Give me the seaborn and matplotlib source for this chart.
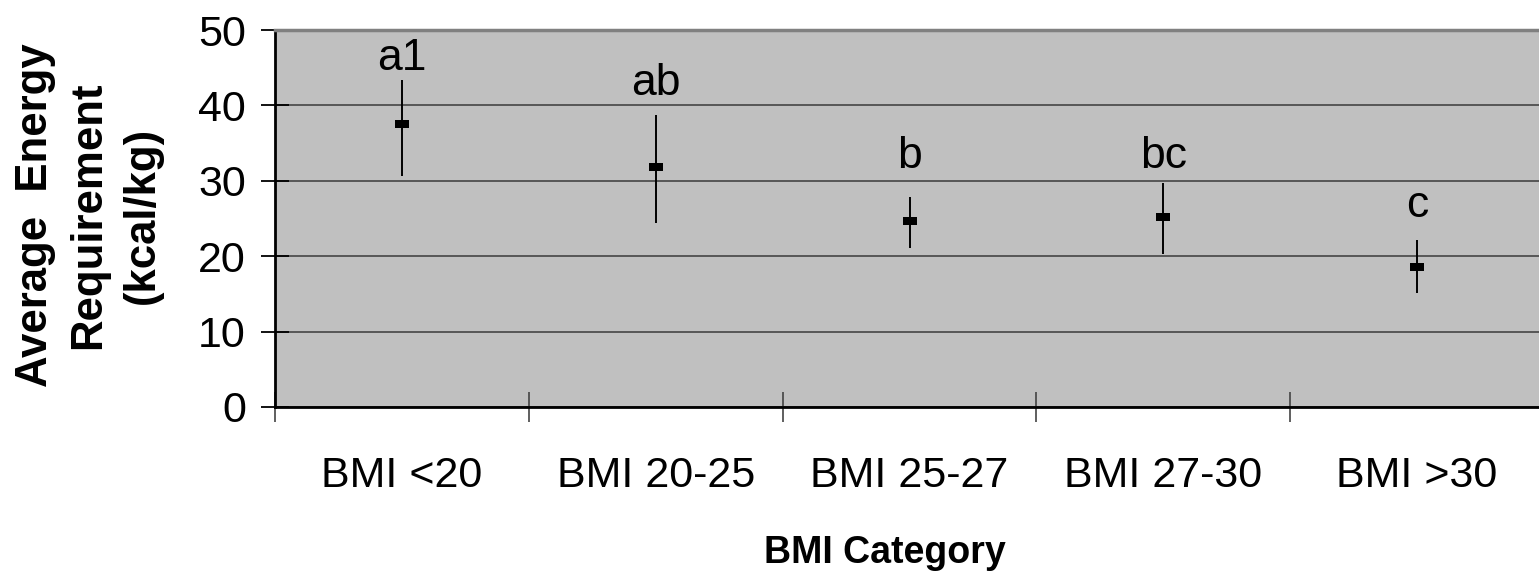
import matplotlib
matplotlib.use("Agg")
import matplotlib.pyplot as plt
from matplotlib.ticker import FixedLocator
import seaborn as sns
import pandas as pd

# ---- data ----
categories = ["BMI <20", "BMI 20-25", "BMI 25-27", "BMI 27-30", "BMI >30"]
means = [37.5, 31.8, 24.7, 25.2, 18.6]
upper = [43.4, 38.7, 27.8, 29.7, 22.1]
lower = [30.7, 24.4, 21.1, 20.3, 15.1]
letters = ["a1", "ab", "b", "bc", "c"]
letter_y = [44.7, 41.4, 31.7, 31.7, 25.2]
y_ticks = [0, 10, 20, 30, 40, 50]

df = pd.DataFrame({"cat": categories, "mean": means})

sns.set_theme(style="white")
plt.rcParams["font.family"] = ["Liberation Sans", "DejaVu Sans"]
plt.rcParams["text.color"] = "black"
plt.rcParams["xtick.labelcolor"] = "black"
plt.rcParams["ytick.labelcolor"] = "black"

W, H = 1539, 581
fig = plt.figure(figsize=(W / 100, H / 100), dpi=100)
ax = fig.add_axes([275 / W, (H - 407) / H, (1544 - 275) / W, (407 - 30) / H])
ax.set_facecolor("#C0C0C0")

# error bars
ax.vlines(categories, lower, upper, color="black", linewidth=1.4, zorder=3)

# mean markers (small horizontal rectangle)
rect = [(-1, -0.6), (1, -0.6), (1, 0.6), (-1, 0.6), (-1, -0.6)]
sns.scatterplot(data=df, x="cat", y="mean", marker=rect, s=105, color="black",
                edgecolor="black", linewidth=0, ax=ax, zorder=4, legend=False)

# significance letters
for c, t, yy in zip(categories, letters, letter_y):
    ax.text(c, yy, t, ha="center", va="baseline", fontsize=32, color="black", zorder=5)

ax.set_xlim(-0.5, len(categories) - 0.5)
ax.set_ylim(0, 50)
ax.yaxis.set_major_locator(FixedLocator(y_ticks))
ax.set_yticklabels([str(v) for v in y_ticks])
ax.grid(axis="y", color="#3a3a3a", linewidth=1.1, zorder=1)
ax.set_axisbelow(True)

# x ticks: labels at centres, tick marks at category boundaries
ax.set_xticks(range(len(categories)))
ax.set_xticklabels(categories)
ax.set_xticks([i - 0.5 for i in range(len(categories) + 1)], minor=True)
ax.tick_params(axis="x", which="major", length=0, pad=35, labelsize=31)
ax.tick_params(axis="x", which="minor", direction="inout", length=21, width=1.2,
               color="#444444", bottom=True)
ax.tick_params(axis="y", which="major", direction="inout", length=20, width=1.3,
               color="black", pad=11, labelsize=31, left=True)

for s in ["left", "bottom"]:
    ax.spines[s].set_color("black")
    ax.spines[s].set_linewidth(2)
ax.spines["top"].set_color("#808080")
ax.spines["top"].set_linewidth(2.5)
ax.spines["right"].set_visible(False)

ax.set_xlabel("")
ax.set_ylabel("")

fig.text(885 / W, 1 - 553 / H, "BMI Category", ha="center", va="center",
         fontsize=27, fontweight="bold", color="black")
fig.text(89 / W, 1 - 215 / H, "Average  Energy\nRequirement\n(kcal/kg)",
         ha="center", va="center", rotation=90, multialignment="center",
         fontsize=31.5, fontweight="bold", linespacing=1.4, color="black")

fig.savefig("out.png", dpi=100)
